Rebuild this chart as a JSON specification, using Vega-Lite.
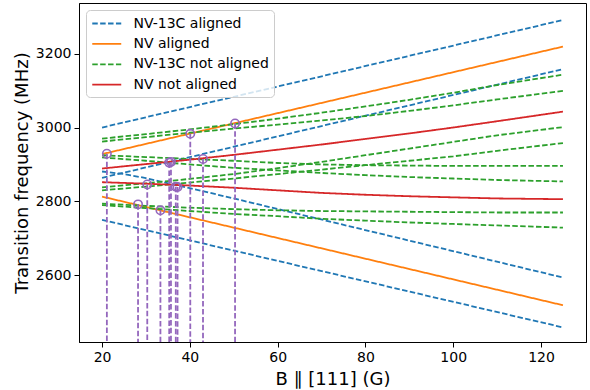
{
  "$schema": "https://vega.github.io/schema/vega-lite/v6.json",
  "width": 507,
  "height": 339,
  "autosize": {"type": "none"},
  "padding": {"left": 79, "top": 3, "right": 4, "bottom": 48},
  "background": "white",
  "datasets": {
    "lines": [
      {"type": "NV-13C aligned", "id": "b1", "B": 20, "f": 3000},
      {"type": "NV-13C aligned", "id": "b1", "B": 125, "f": 3291},
      {"type": "NV-13C aligned", "id": "b2", "B": 20, "f": 2864},
      {"type": "NV-13C aligned", "id": "b2", "B": 125, "f": 3158},
      {"type": "NV-13C aligned", "id": "b3", "B": 20, "f": 2881},
      {"type": "NV-13C aligned", "id": "b3", "B": 25, "f": 2874},
      {"type": "NV-13C aligned", "id": "b3", "B": 30, "f": 2863},
      {"type": "NV-13C aligned", "id": "b3", "B": 40, "f": 2836},
      {"type": "NV-13C aligned", "id": "b3", "B": 50, "f": 2808},
      {"type": "NV-13C aligned", "id": "b3", "B": 125, "f": 2594},
      {"type": "NV-13C aligned", "id": "b4", "B": 20, "f": 2750},
      {"type": "NV-13C aligned", "id": "b4", "B": 125, "f": 2459},
      {"type": "NV aligned", "id": "o1", "B": 20, "f": 2928},
      {"type": "NV aligned", "id": "o1", "B": 125, "f": 3219},
      {"type": "NV aligned", "id": "o2", "B": 20, "f": 2813},
      {"type": "NV aligned", "id": "o2", "B": 125, "f": 2519},
      {"type": "NV-13C not aligned", "id": "g1", "B": 20, "f": 2970},
      {"type": "NV-13C not aligned", "id": "g1", "B": 30, "f": 2982},
      {"type": "NV-13C not aligned", "id": "g1", "B": 40, "f": 2995},
      {"type": "NV-13C not aligned", "id": "g1", "B": 50, "f": 3009},
      {"type": "NV-13C not aligned", "id": "g1", "B": 60, "f": 3024},
      {"type": "NV-13C not aligned", "id": "g1", "B": 70, "f": 3040},
      {"type": "NV-13C not aligned", "id": "g1", "B": 80, "f": 3057},
      {"type": "NV-13C not aligned", "id": "g1", "B": 90, "f": 3075},
      {"type": "NV-13C not aligned", "id": "g1", "B": 100, "f": 3094},
      {"type": "NV-13C not aligned", "id": "g1", "B": 110, "f": 3115},
      {"type": "NV-13C not aligned", "id": "g1", "B": 125, "f": 3143},
      {"type": "NV-13C not aligned", "id": "g2", "B": 20, "f": 2962},
      {"type": "NV-13C not aligned", "id": "g2", "B": 30, "f": 2974},
      {"type": "NV-13C not aligned", "id": "g2", "B": 40, "f": 2986},
      {"type": "NV-13C not aligned", "id": "g2", "B": 50, "f": 2997},
      {"type": "NV-13C not aligned", "id": "g2", "B": 60, "f": 3008},
      {"type": "NV-13C not aligned", "id": "g2", "B": 70, "f": 3019},
      {"type": "NV-13C not aligned", "id": "g2", "B": 80, "f": 3031},
      {"type": "NV-13C not aligned", "id": "g2", "B": 90, "f": 3045},
      {"type": "NV-13C not aligned", "id": "g2", "B": 100, "f": 3060},
      {"type": "NV-13C not aligned", "id": "g2", "B": 110, "f": 3076},
      {"type": "NV-13C not aligned", "id": "g2", "B": 125, "f": 3099},
      {"type": "NV-13C not aligned", "id": "g3", "B": 20, "f": 2838},
      {"type": "NV-13C not aligned", "id": "g3", "B": 30, "f": 2849},
      {"type": "NV-13C not aligned", "id": "g3", "B": 40, "f": 2861},
      {"type": "NV-13C not aligned", "id": "g3", "B": 50, "f": 2874},
      {"type": "NV-13C not aligned", "id": "g3", "B": 60, "f": 2890},
      {"type": "NV-13C not aligned", "id": "g3", "B": 70, "f": 2907},
      {"type": "NV-13C not aligned", "id": "g3", "B": 80, "f": 2925},
      {"type": "NV-13C not aligned", "id": "g3", "B": 90, "f": 2943},
      {"type": "NV-13C not aligned", "id": "g3", "B": 100, "f": 2961},
      {"type": "NV-13C not aligned", "id": "g3", "B": 110, "f": 2979},
      {"type": "NV-13C not aligned", "id": "g3", "B": 125, "f": 3001},
      {"type": "NV-13C not aligned", "id": "g4", "B": 20, "f": 2830},
      {"type": "NV-13C not aligned", "id": "g4", "B": 30, "f": 2840},
      {"type": "NV-13C not aligned", "id": "g4", "B": 40, "f": 2851},
      {"type": "NV-13C not aligned", "id": "g4", "B": 50, "f": 2862},
      {"type": "NV-13C not aligned", "id": "g4", "B": 60, "f": 2874},
      {"type": "NV-13C not aligned", "id": "g4", "B": 70, "f": 2886},
      {"type": "NV-13C not aligned", "id": "g4", "B": 80, "f": 2898},
      {"type": "NV-13C not aligned", "id": "g4", "B": 90, "f": 2910},
      {"type": "NV-13C not aligned", "id": "g4", "B": 100, "f": 2922},
      {"type": "NV-13C not aligned", "id": "g4", "B": 110, "f": 2937},
      {"type": "NV-13C not aligned", "id": "g4", "B": 125, "f": 2958},
      {"type": "NV-13C not aligned", "id": "g5", "B": 20, "f": 2925},
      {"type": "NV-13C not aligned", "id": "g5", "B": 30, "f": 2920},
      {"type": "NV-13C not aligned", "id": "g5", "B": 40, "f": 2915},
      {"type": "NV-13C not aligned", "id": "g5", "B": 50, "f": 2910},
      {"type": "NV-13C not aligned", "id": "g5", "B": 60, "f": 2904},
      {"type": "NV-13C not aligned", "id": "g5", "B": 70, "f": 2900},
      {"type": "NV-13C not aligned", "id": "g5", "B": 80, "f": 2898},
      {"type": "NV-13C not aligned", "id": "g5", "B": 90, "f": 2897},
      {"type": "NV-13C not aligned", "id": "g5", "B": 100, "f": 2896},
      {"type": "NV-13C not aligned", "id": "g5", "B": 110, "f": 2896},
      {"type": "NV-13C not aligned", "id": "g5", "B": 125, "f": 2896},
      {"type": "NV-13C not aligned", "id": "g6", "B": 20, "f": 2919},
      {"type": "NV-13C not aligned", "id": "g6", "B": 30, "f": 2910},
      {"type": "NV-13C not aligned", "id": "g6", "B": 40, "f": 2900},
      {"type": "NV-13C not aligned", "id": "g6", "B": 50, "f": 2891},
      {"type": "NV-13C not aligned", "id": "g6", "B": 60, "f": 2884},
      {"type": "NV-13C not aligned", "id": "g6", "B": 70, "f": 2877},
      {"type": "NV-13C not aligned", "id": "g6", "B": 80, "f": 2871},
      {"type": "NV-13C not aligned", "id": "g6", "B": 90, "f": 2866},
      {"type": "NV-13C not aligned", "id": "g6", "B": 100, "f": 2862},
      {"type": "NV-13C not aligned", "id": "g6", "B": 110, "f": 2858},
      {"type": "NV-13C not aligned", "id": "g6", "B": 125, "f": 2854},
      {"type": "NV-13C not aligned", "id": "g7", "B": 20, "f": 2794},
      {"type": "NV-13C not aligned", "id": "g7", "B": 30, "f": 2788},
      {"type": "NV-13C not aligned", "id": "g7", "B": 40, "f": 2783},
      {"type": "NV-13C not aligned", "id": "g7", "B": 50, "f": 2779},
      {"type": "NV-13C not aligned", "id": "g7", "B": 60, "f": 2776},
      {"type": "NV-13C not aligned", "id": "g7", "B": 70, "f": 2774},
      {"type": "NV-13C not aligned", "id": "g7", "B": 80, "f": 2773},
      {"type": "NV-13C not aligned", "id": "g7", "B": 90, "f": 2772},
      {"type": "NV-13C not aligned", "id": "g7", "B": 100, "f": 2771},
      {"type": "NV-13C not aligned", "id": "g7", "B": 110, "f": 2770},
      {"type": "NV-13C not aligned", "id": "g7", "B": 125, "f": 2770},
      {"type": "NV-13C not aligned", "id": "g8", "B": 20, "f": 2790},
      {"type": "NV-13C not aligned", "id": "g8", "B": 30, "f": 2782},
      {"type": "NV-13C not aligned", "id": "g8", "B": 40, "f": 2774},
      {"type": "NV-13C not aligned", "id": "g8", "B": 50, "f": 2766},
      {"type": "NV-13C not aligned", "id": "g8", "B": 60, "f": 2760},
      {"type": "NV-13C not aligned", "id": "g8", "B": 70, "f": 2753},
      {"type": "NV-13C not aligned", "id": "g8", "B": 80, "f": 2748},
      {"type": "NV-13C not aligned", "id": "g8", "B": 90, "f": 2743},
      {"type": "NV-13C not aligned", "id": "g8", "B": 100, "f": 2739},
      {"type": "NV-13C not aligned", "id": "g8", "B": 110, "f": 2735},
      {"type": "NV-13C not aligned", "id": "g8", "B": 125, "f": 2729},
      {"type": "NV not aligned", "id": "r1", "B": 20, "f": 2889},
      {"type": "NV not aligned", "id": "r1", "B": 30, "f": 2901},
      {"type": "NV not aligned", "id": "r1", "B": 40, "f": 2913},
      {"type": "NV not aligned", "id": "r1", "B": 50, "f": 2926},
      {"type": "NV not aligned", "id": "r1", "B": 60, "f": 2940},
      {"type": "NV not aligned", "id": "r1", "B": 70, "f": 2954},
      {"type": "NV not aligned", "id": "r1", "B": 80, "f": 2969},
      {"type": "NV not aligned", "id": "r1", "B": 90, "f": 2984},
      {"type": "NV not aligned", "id": "r1", "B": 100, "f": 3000},
      {"type": "NV not aligned", "id": "r1", "B": 110, "f": 3017},
      {"type": "NV not aligned", "id": "r1", "B": 125, "f": 3043},
      {"type": "NV not aligned", "id": "r2", "B": 20, "f": 2852},
      {"type": "NV not aligned", "id": "r2", "B": 30, "f": 2848},
      {"type": "NV not aligned", "id": "r2", "B": 40, "f": 2843},
      {"type": "NV not aligned", "id": "r2", "B": 50, "f": 2837},
      {"type": "NV not aligned", "id": "r2", "B": 60, "f": 2830},
      {"type": "NV not aligned", "id": "r2", "B": 70, "f": 2823},
      {"type": "NV not aligned", "id": "r2", "B": 80, "f": 2818},
      {"type": "NV not aligned", "id": "r2", "B": 90, "f": 2814},
      {"type": "NV not aligned", "id": "r2", "B": 100, "f": 2811},
      {"type": "NV not aligned", "id": "r2", "B": 110, "f": 2808},
      {"type": "NV not aligned", "id": "r2", "B": 125, "f": 2806}
    ],
    "points": [
      {"B": 21.1, "f": 2929},
      {"B": 28.2, "f": 2792},
      {"B": 30.3, "f": 2846},
      {"B": 33.3, "f": 2776},
      {"B": 35.3, "f": 2905},
      {"B": 35.7, "f": 2907},
      {"B": 36.8, "f": 2840},
      {"B": 37.2, "f": 2839},
      {"B": 40.1, "f": 2983},
      {"B": 43.0, "f": 2915},
      {"B": 50.3, "f": 3011}
    ]
  },
  "layer": [
    {
      "data": {"name": "lines"},
      "mark": {"type": "line", "strokeWidth": 1.8, "clip": true},
      "encoding": {
        "x": {"field": "B", "type": "quantitative", "scale": {"domain": [14.75, 130.25], "nice": false, "zero": false},
              "axis": {"values": [20, 40, 60, 80, 100, 120], "title": "B ∥ [111] (G)"}},
        "y": {"field": "f", "type": "quantitative", "scale": {"domain": [2419.5, 3337], "nice": false, "zero": false},
              "axis": {"values": [2600, 2800, 3000, 3200], "format": "d", "title": "Transition frequency (MHz)"}},
        "color": {"field": "type", "type": "nominal",
                  "scale": {"domain": ["NV-13C aligned", "NV aligned", "NV-13C not aligned", "NV not aligned"],
                            "range": ["#1f77b4", "#ff7f0e", "#2ca02c", "#d62728"]},
                  "legend": {"title": null, "orient": "none", "legendX": 7, "legendY": 7, "symbolType": "M-1,0H3", "symbolSize": 210, "symbolStrokeWidth": 1.8,
                             "labelFontSize": 14, "labelOffset": 25.5, "padding": 5, "rowPadding": 4.4}},
        "strokeDash": {"field": "type", "type": "nominal",
                  "scale": {"domain": ["NV-13C aligned", "NV aligned", "NV-13C not aligned", "NV not aligned"],
                            "range": [[5.5, 2.4], [1, 0], [5.5, 2.4], [1, 0]]},
                  "legend": {"title": null, "orient": "none", "legendX": 7, "legendY": 7, "symbolType": "M-1,0H3", "symbolSize": 210, "symbolStrokeWidth": 1.8,
                             "labelFontSize": 14, "labelOffset": 25.5, "padding": 5, "rowPadding": 4.4}},
        "detail": {"field": "id", "type": "nominal"}
      }
    },
    {
      "data": {"name": "points"},
      "mark": {"type": "rule", "color": "#9467bd", "strokeWidth": 1.8, "strokeDash": [5.5, 2.4], "clip": true},
      "encoding": {
        "x": {"field": "B", "type": "quantitative"},
        "y": {"field": "f", "type": "quantitative"},
        "y2": {"datum": 2419.5}
      }
    },
    {
      "data": {"name": "points"},
      "mark": {"type": "point", "shape": "circle", "filled": false, "color": "#9467bd", "strokeWidth": 1.6, "size": 70, "opacity": 1},
      "encoding": {
        "x": {"field": "B", "type": "quantitative"},
        "y": {"field": "f", "type": "quantitative"}
      }
    }
  ],
  "config": {
    "font": "DejaVu Sans",
    "view": {"stroke": "black", "strokeWidth": 1},
    "axis": {
      "grid": false,
      "domainColor": "black",
      "tickColor": "black",
      "labelColor": "black",
      "titleColor": "black",
      "labelFont": "DejaVu Sans",
      "titleFont": "DejaVu Sans",
      "labelFontSize": 14,
      "titleFontSize": 18,
      "titleFontWeight": "normal",
      "tickSize": 5,
      "labelPadding": 3
    },
    "axisY": {"titlePadding": 4},
    "axisX": {"titlePadding": 6},
    "legend": {
      "labelFont": "DejaVu Sans",
      "labelColor": "black",
      "strokeColor": "#cccccc",
      "fillColor": "rgba(255,255,255,0.8)",
      "cornerRadius": 4
    }
  }
}
